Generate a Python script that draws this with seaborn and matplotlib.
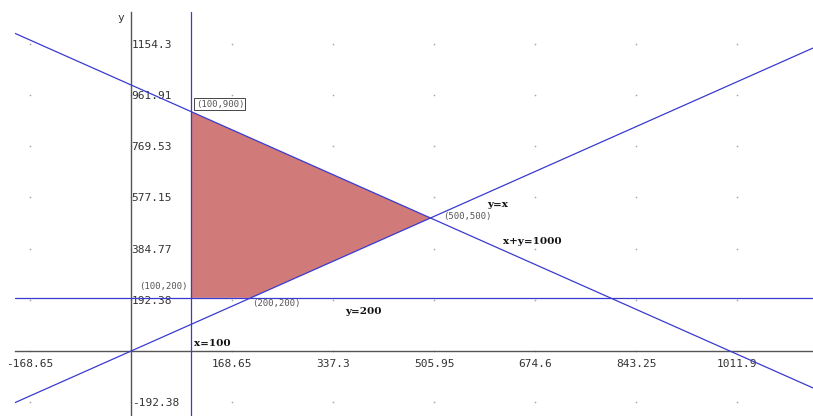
import matplotlib
matplotlib.use("Agg")
import matplotlib.pyplot as plt
import seaborn as sns
import numpy as np

# feasible region vertices
region_x = [100, 200, 500, 100]
region_y = [200, 200, 500, 900]

# tick values shown on the axes
xticks = [-168.65, 168.65, 337.3, 505.95, 674.6, 843.25, 1011.9]
yticks = [-192.38, 192.38, 384.77, 577.15, 769.53, 961.91, 1154.3]
grid_x = [-168.65, 0, 168.65, 337.3, 505.95, 674.6, 843.25, 1011.9]
grid_y = [-192.38, 0, 192.38, 384.77, 577.15, 769.53, 961.91, 1154.3]

sns.set_style("white")
plt.rcParams['font.family'] = ['DejaVu Sans Mono']

fig = plt.figure(figsize=(8.13, 4.16), dpi=100)
ax = fig.add_axes([15 / 813, 0, 798 / 813, 404 / 416])
ax.set_xlim(-193.7, 1138.6)
ax.set_ylim(-244, 1274)

blue = "#3a3ad0"
ax.fill(region_x, region_y, color="#d07a7a", lw=0, zorder=1)

gx, gy = np.meshgrid(grid_x, grid_y)
ax.scatter(gx.ravel(), gy.ravel(), s=1.5, color="#a8a8a8", lw=0, zorder=0)

ax.axvline(100, color=blue, lw=0.9, zorder=3)
ax.axhline(200, color=blue, lw=0.9, zorder=3)
ax.axline((0, 0), (500, 500), color=blue, lw=0.9, zorder=3)
ax.axline((0, 1000), (500, 500), color=blue, lw=0.9, zorder=3)

for s in ["top", "right"]:
    ax.spines[s].set_visible(False)
ax.spines["left"].set_position(("data", 0))
ax.spines["bottom"].set_position(("data", 0))
for s in ["left", "bottom"]:
    ax.spines[s].set_color("#555555")
    ax.spines[s].set_linewidth(1.0)

ax.set_xticks(xticks)
ax.set_xticklabels([f"{v:g}" for v in xticks])
ax.set_yticks(yticks)
ax.set_yticklabels([f"{v:g}" for v in yticks])
ax.tick_params(axis="both", direction="inout", length=5, width=0.8,
               color="#555555", labelsize=8, labelcolor="#333333")
ax.tick_params(axis="y", pad=-3)
for lab in ax.get_yticklabels():
    lab.set_horizontalalignment("left")

ax.text(-17, 1252, "y", fontsize=8, color="#333333", ha="center", va="center")

small = dict(fontsize=6.5, color="#555555", va="center")
ax.text(108, 928, "(100,900)", ha="left",
        bbox=dict(boxstyle="square,pad=0.15", fc="white", ec="#444444", lw=0.7), **small)
ax.text(95, 244, "(100,200)", ha="right", **small)
ax.text(202, 177, "(200,200)", ha="left", **small)
ax.text(521, 504, "(500,500)", ha="left", **small)

bold = dict(fontsize=7.5, fontweight="bold", family="DejaVu Serif", color="#111111", va="center")
ax.text(594, 549, "y=x", ha="left", **bold)
ax.text(621, 410, "x+y=1000", ha="left", **bold)
ax.text(357, 150, "y=200", ha="left", **bold)
ax.text(105, 30, "x=100", ha="left", **bold)

fig.savefig("out.png", dpi=100)
